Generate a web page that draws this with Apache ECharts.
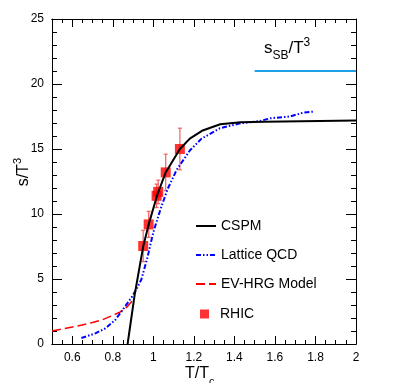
<!DOCTYPE html>
<html>
<head>
<meta charset="utf-8">
<script src="https://cdn.jsdelivr.net/npm/echarts@6/dist/echarts.min.js"></script>
<style>
  html, body { margin: 0; padding: 0; background: #fff; }
  #chart { width: 396px; height: 383px; }
</style>
</head>
<body>
<div id="chart"></div>
<script>
// CSPM (solid black)
var cspmT = [0.873, 0.908, 0.95, 0.977, 1.02, 1.061, 1.131, 1.18, 1.24, 1.33, 1.43, 1.55, 2.0]
var cspmS = [0, 3.8, 7.5, 9.2, 11.5, 13.2, 15.0, 15.8, 16.4, 16.9, 17.05, 17.1, 17.2]

// Lattice QCD (blue dash-dot)
var latT = [0.645, 0.714, 0.763, 0.812, 0.854, 0.895, 0.919, 0.941, 0.97, 1.0, 1.036, 1.07, 1.115, 1.181, 1.238, 1.329, 1.428, 1.526, 1.576, 1.674, 1.74, 1.789]
var latS = [0.46, 0.82, 1.2, 1.85, 2.74, 3.64, 4.28, 4.97, 6.6, 8.6, 10.4, 11.9, 13.4, 14.9, 15.8, 16.6, 16.97, 17.15, 17.36, 17.5, 17.8, 17.87]

// EV-HRG model (red long dash)
var hrgT = [0.5, 0.6, 0.648, 0.7, 0.747, 0.8, 0.835, 0.87, 0.901]
var hrgS = [1.0, 1.3, 1.46, 1.65, 1.85, 2.2, 2.45, 2.85, 3.4]

// RHIC points with errors
var rhicT = [0.95, 0.977, 1.016, 1.024, 1.061, 1.131]
var rhicS = [7.54, 9.2, 11.4, 11.7, 13.2, 15.0]
var rhicErr = [1.2, 1.0, 0.9, 0.9, 1.4, 1.6]

// Stefan-Boltzmann limit
var sbT = [1.5, 2.0]
var sbS = [21, 21]

var xMajor = [0.6, 0.8, 1, 1.2, 1.4, 1.6, 1.8, 2]
var xMinor = [0.55, 0.65, 0.7, 0.75, 0.85, 0.9, 0.95, 1.05, 1.1, 1.15, 1.25, 1.3, 1.35,
  1.45, 1.5, 1.55, 1.65, 1.7, 1.75, 1.85, 1.9, 1.95]

function zip(a, b) {
  return a.map(function (v, i) { return [v, b[i]] })
}

var font = 'Liberation Sans'

function xAxisOf(pos, values, len, labels) {
  return {
    type: 'value', position: pos, min: 0.5, max: 2,
    axisLine: { show: true, onZero: false, lineStyle: { color: '#000' } },
    axisTick: { show: true, inside: true, length: len, customValues: values, lineStyle: { color: '#000' } },
    axisLabel: labels ? { show: true, customValues: values, color: '#000' } : { show: false },
    splitLine: { show: false }
  }
}

function yAxisOf(pos, labels) {
  return {
    type: 'value', position: pos, min: 0, max: 25, interval: 5,
    axisLine: { show: true, onZero: false, lineStyle: { color: '#000' } },
    axisTick: { show: true, inside: true, length: 10, lineStyle: { color: '#000' } },
    minorTick: { show: true, splitNumber: 5, length: 5, lineStyle: { color: '#000' } },
    axisLabel: labels ? { show: true, color: '#000' } : { show: false },
    splitLine: { show: false }
  }
}

var titleRich = {
  b: { fontSize: 16, fill: '#000', lineHeight: 20, verticalAlign: 'bottom' },
  sub: { fontSize: 11, fill: '#000', lineHeight: 12, verticalAlign: 'bottom', padding: [0, 0, -5, 0] },
  sup: { fontSize: 11, fill: '#000', lineHeight: 12, verticalAlign: 'top' }
}
var sbRich = {
  b: { fontSize: 17, fill: '#000', lineHeight: 20, verticalAlign: 'bottom' },
  sub: { fontSize: 12, fill: '#000', lineHeight: 12, verticalAlign: 'bottom', padding: [0, 0, -5, 0] },
  sup: { fontSize: 12, fill: '#000', lineHeight: 12, verticalAlign: 'top' }
}

var chart = echarts.init(document.getElementById('chart'), null, { renderer: 'canvas' })

chart.setOption({
  animation: false,
  backgroundColor: '#fff',
  textStyle: { fontFamily: font },
  grid: { left: 52, right: 40, top: 19, bottom: 39, outerBoundsMode: 'none' },
  xAxis: [
    xAxisOf('bottom', xMajor, 8, true),
    xAxisOf('bottom', xMinor, 4, false),
    xAxisOf('top', xMajor, 8, false),
    xAxisOf('top', xMinor, 4, false)
  ],
  yAxis: [yAxisOf('left', true), yAxisOf('right', false)],
  legend: [{
    data: ['CSPM', 'Lattice QCD', 'EV-HRG Model'],
    orient: 'vertical',
    left: 195,
    top: 219,
    padding: 0,
    itemWidth: 20,
    itemHeight: 14,
    itemGap: 15,
    itemStyle: { opacity: 0 },
    textStyle: { fontSize: 14, color: '#000' }
  }, {
    data: [{ name: 'RHIC', icon: 'rect' }],
    orient: 'vertical',
    left: 200,
    top: 307,
    padding: 0,
    itemWidth: 9,
    itemHeight: 9,
    textStyle: { fontSize: 14, color: '#000', padding: [0, 0, 0, 6] }
  }],
  graphic: [{
    type: 'text',
    left: 264,
    top: 37,
    style: { text: '{b|s}{sub|SB}{b|/T}{sup|3}', fill: '#000', rich: sbRich }
  }, {
    // x axis title
    type: 'text',
    left: 185,
    top: 366,
    style: { text: '{b|T/T}{sub|c}', fill: '#000', rich: titleRich }
  }, {
    // y axis title
    type: 'text',
    left: 12,
    top: 158,
    rotation: Math.PI / 2,
    style: { text: '{b|s/T}{sup|3}', fill: '#000', rich: titleRich }
  }],
  series: [{
    name: 'SB',
    type: 'line',
    data: zip(sbT, sbS),
    symbol: 'none',
    lineStyle: { color: '#1e9fe6', width: 2 }
  }, {
    name: 'EV-HRG Model',
    type: 'line',
    data: zip(hrgT, hrgS),
    symbol: 'none',
    itemStyle: { color: '#ff0000' },
    lineStyle: { color: '#ff0000', width: 1.5, type: [9, 4] }
  }, {
    name: 'Lattice QCD',
    type: 'line',
    data: zip(latT, latS),
    symbol: 'none',
    itemStyle: { color: '#0000ff' },
    lineStyle: { color: '#0000ff', width: 2, type: [5, 2, 1.5, 2, 1.5, 2] }
  }, {
    name: 'CSPM',
    type: 'line',
    data: zip(cspmT, cspmS),
    symbol: 'none',
    itemStyle: { color: '#000' },
    lineStyle: { color: '#000', width: 2 }
  }, {
    name: 'RHIC err',
    type: 'custom',
    data: rhicT.map(function (t, i) { return [t, rhicS[i] - rhicErr[i], rhicS[i] + rhicErr[i]] }),
    renderItem: function (params, api) {
      var lo = api.coord([api.value(0), api.value(1)])
      var hi = api.coord([api.value(0), api.value(2)])
      var st = { stroke: '#f04848', lineWidth: 1.3, opacity: 0.8 }
      return {
        type: 'group',
        children: [
          { type: 'line', shape: { x1: lo[0], y1: lo[1], x2: hi[0], y2: hi[1] }, style: st },
          { type: 'line', shape: { x1: lo[0] - 2, y1: lo[1], x2: lo[0] + 2, y2: lo[1] }, style: st },
          { type: 'line', shape: { x1: hi[0] - 2, y1: hi[1], x2: hi[0] + 2, y2: hi[1] }, style: st }
        ]
      }
    },
    encode: { x: 0, y: [1, 2] }
  }, {
    name: 'RHIC',
    type: 'scatter',
    data: zip(rhicT, rhicS),
    symbol: 'rect',
    symbolSize: 10,
    itemStyle: { color: '#ff0000' }
  }]
})
</script>
</body>
</html>
